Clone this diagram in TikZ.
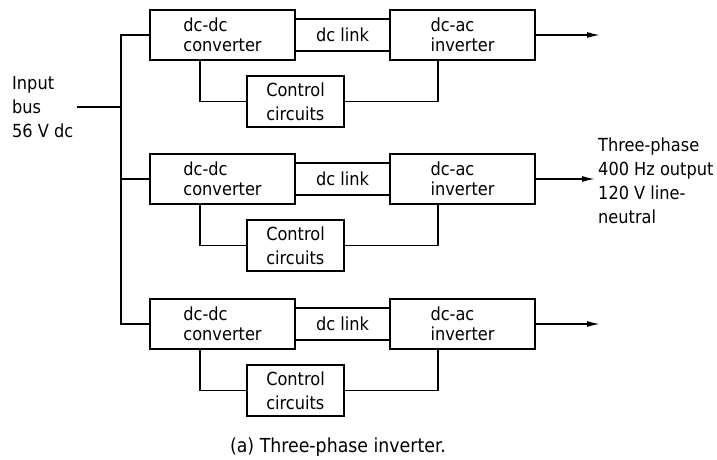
\documentclass[tikz,border=0pt]{standalone}
\usepackage{fontspec}
\setmainfont{DejaVu Sans Condensed}
\usetikzlibrary{arrows.meta}
\usetikzlibrary{positioning}
\usetikzlibrary{calc}
\tikzset{>={Latex[length=13pt,width=6pt]}}
\newcommand\blockwidth{145pt}
\newcommand\blockheight{50pt}
\newcommand\ctrlwidth{97pt}
\newcommand\linkwidth{95pt}
\tikzset{
    wire/.style = {line width=1.6pt},
    block/.style = {draw, line width=1.6pt, minimum width=\blockwidth, minimum height=\blockheight, inner sep=0pt, outer sep=0pt, align=left, font=\fontsize{18}{20}\selectfont},
    ctrlblock/.style = {block, minimum width=\ctrlwidth, minimum height=51pt, font=\fontsize{18}{24}\selectfont},
    linkblock/.style = {minimum width=\linkwidth, minimum height=32pt, inner sep=0pt, outer sep=0pt, font=\fontsize{18}{20}\selectfont},
    caption/.style = {font=\fontsize{18}{24}\selectfont, align=left, inner sep=0pt},
}

\begin{document}
\begin{tikzpicture}[x=1pt,y=-1pt]
    \useasboundingbox (0,0) rectangle (717,460);
    \node[block] (conv1) at (222.5,35) {dc-dc\\converter};
    \node[linkblock, right=0pt of conv1] (link1) {dc link};
    \node[block, right=0pt of link1] (inv1) {dc-ac\\inverter};
    \node[ctrlblock] (ctrl1) at ($(conv1)+(73,66.5)$) {Control\\circuits};
    \node[block] (conv2) at (222.5,179) {dc-dc\\converter};
    \node[linkblock, right=0pt of conv2] (link2) {dc link};
    \node[block, right=0pt of link2] (inv2) {dc-ac\\inverter};
    \node[ctrlblock] (ctrl2) at ($(conv2)+(73,66.5)$) {Control\\circuits};
    \node[block] (conv3) at (222.5,324) {dc-dc\\converter};
    \node[linkblock, right=0pt of conv3] (link3) {dc link};
    \node[block, right=0pt of link3] (inv3) {dc-ac\\inverter};
    \node[ctrlblock] (ctrl3) at ($(conv3)+(73,66.5)$) {Control\\circuits};
    \draw[wire] (link1.north west) -- (link1.north east) (link1.south west) -- (link1.south east);
    \draw[wire] (link2.north west) -- (link2.north east) (link2.south west) -- (link2.south east);
    \draw[wire] (link3.north west) -- (link3.north east) (link3.south west) -- (link3.south east);
    \draw[wire] ([xshift=-22.5pt]conv1.south) |- (ctrl1.west);
    \draw[wire] (ctrl1.east) -| ([xshift=-24.5pt]inv1.south);
    \draw[wire] ([xshift=-22.5pt]conv2.south) |- (ctrl2.west);
    \draw[wire] (ctrl2.east) -| ([xshift=-24.5pt]inv2.south);
    \draw[wire] ([xshift=-22.5pt]conv3.south) |- (ctrl3.west);
    \draw[wire] (ctrl3.east) -| ([xshift=-24.5pt]inv3.south);
    \coordinate (out1) at ($(inv1.east)+(65,0)$);
    \coordinate (out2) at ($(inv2.east)+(60,0)$);
    \coordinate (out3) at ($(inv3.east)+(65,0)$);
    \draw[wire,->] (inv1.east) -- (out1);
    \draw[wire,->] (inv2.east) -- (out2);
    \draw[wire,->] (inv3.east) -- (out3);
    \coordinate (bustop) at ([xshift=-29pt]conv1.west);
    \coordinate (busbot) at ([xshift=-29pt]conv3.west);
    \draw[wire] (conv1.west) -- (bustop) -- (busbot) -- (conv3.west);
    \draw[wire] (conv2.west) -- (conv2.west -| bustop);
    \coordinate (in) at (77,107);
    \draw[wire] (in) -- (in -| bustop);
    \node[caption, anchor=west] (input) at (12,107) {Input\\bus\\56 V dc};
    \node[caption, anchor=west] (output) at (598,181) {Three-phase\\400 Hz output\\120 V line-\\neutral};
    \node[caption, font=\fontsize{19.3}{24}\selectfont] (title) at (338,447) {(a) Three-phase inverter.};
\end{tikzpicture}
\end{document}
